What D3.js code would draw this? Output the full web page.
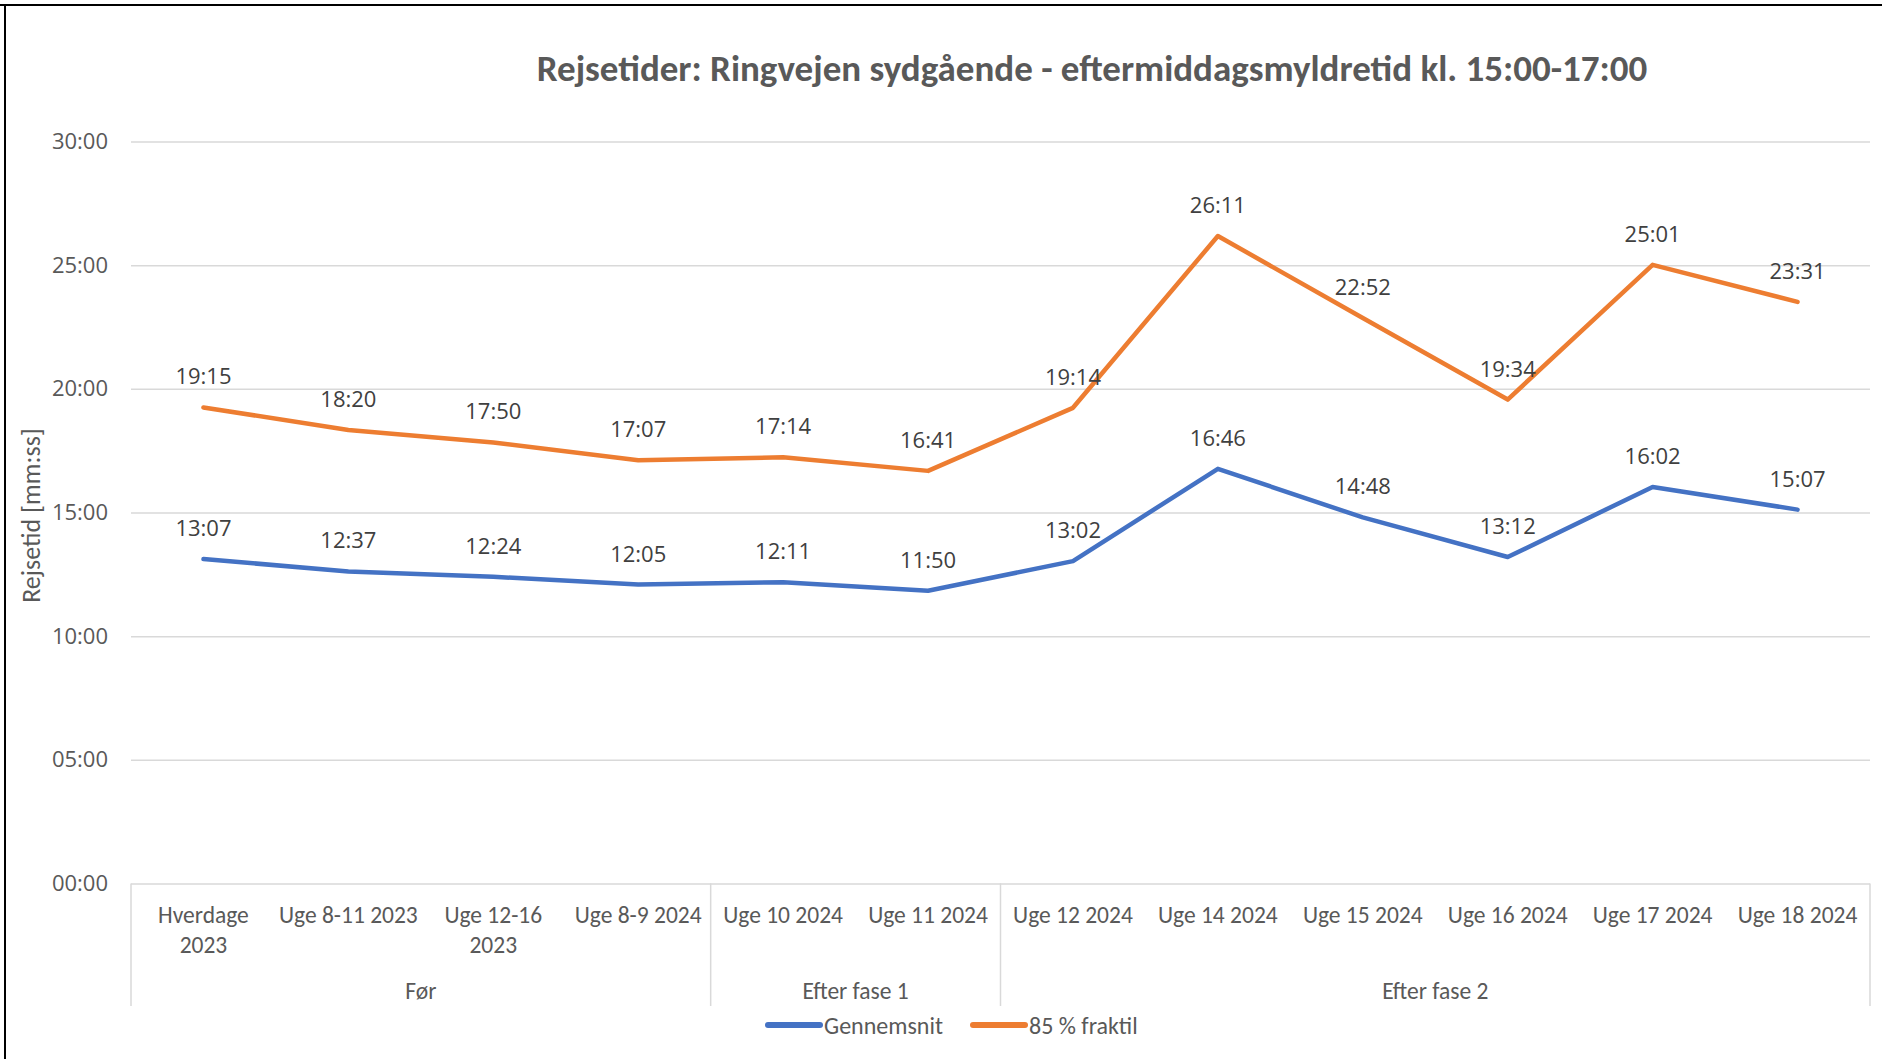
<!DOCTYPE html>
<html>
<head>
<meta charset="utf-8">
<script src="https://cdn.jsdelivr.net/npm/d3@7"></script>
<style>
  body { margin: 0; background: #fff; }
  svg { display: block; }
</style>
</head>
<body>
<svg width="1882" height="1059"></svg>
<script>
const categories = ['Hverdage\n2023', 'Uge 8-11 2023', 'Uge 12-16\n2023', 'Uge 8-9 2024',
  'Uge 10 2024', 'Uge 11 2024', 'Uge 12 2024', 'Uge 14 2024', 'Uge 15 2024',
  'Uge 16 2024', 'Uge 17 2024', 'Uge 18 2024'];
const groups = ['Før', 'Efter fase 1', 'Efter fase 2'];
const groupSizes = [4, 2, 6];
const gennemsnit = ['13:07', '12:37', '12:24', '12:05', '12:11', '11:50', '13:02', '16:46', '14:48', '13:12', '16:02', '15:07'];
const fraktil85 = ['19:15', '18:20', '17:50', '17:07', '17:14', '16:41', '19:14', '26:11', '22:52', '19:34', '25:01', '23:31'];
const yTicks = [0, 300, 600, 900, 1200, 1500, 1800];
const seriesNames = ['Gennemsnit', '85 % fraktil'];
const colors = ['#4472C4', '#ED7D31'];

const toSec = s => { const [m, ss] = s.split(':'); return +m * 60 + +ss; };
const fmt = v => d3.format('02')(Math.floor(v / 60)) + ':' + d3.format('02')(v % 60);

const svg = d3.select('svg');
const calibri = "Carlito, Calibri, 'Liberation Sans Narrow', Lato, sans-serif";
const segoe = "'Open Sans', 'Noto Sans', sans-serif";

// frame
svg.append('line').attr('x1', 0).attr('x2', 1882).attr('y1', 5).attr('y2', 5)
  .attr('stroke', '#000').attr('stroke-width', 2);
svg.append('line').attr('x1', 5).attr('x2', 5).attr('y1', 5).attr('y2', 1059)
  .attr('stroke', '#000').attr('stroke-width', 2);

const x0 = 131, x1 = 1870;
const x = d3.scaleBand().domain(d3.range(categories.length)).range([x0, x1]);
const y = d3.scaleLinear().domain([0, 1800]).range([883.4, 141.6]);
const edge = i => i < categories.length ? x(i) : x1;

// title
svg.append('text')
  .attr('x', 1092).attr('y', 68)
  .attr('text-anchor', 'middle').attr('dominant-baseline', 'central')
  .attr('font-family', calibri).attr('font-weight', 'bold').attr('font-size', 37)
  .attr('fill', '#595959')
  .text('Rejsetider: Ringvejen sydgående - eftermiddagsmyldretid kl. 15:00-17:00');

// grid + y axis
const yAxis = svg.append('g')
  .attr('transform', `translate(${x0},0)`)
  .call(d3.axisLeft(y).tickValues(yTicks).tickFormat(fmt).tickSize(-(x1 - x0)).tickPadding(23));
yAxis.select('.domain').remove();
yAxis.selectAll('line').attr('stroke', '#d9d9d9').attr('stroke-width', 1.5);
yAxis.selectAll('text').attr('font-family', segoe).attr('font-size', 22).attr('fill', '#595959');

svg.append('text')
  .attr('transform', `translate(31,${y(900) + 3}) rotate(-90)`)
  .attr('text-anchor', 'middle').attr('dominant-baseline', 'central')
  .attr('font-family', calibri).attr('font-size', 26).attr('fill', '#595959')
  .text('Rejsetid [mm:ss]');

// category axis
const xg = svg.append('g');
xg.selectAll('text.cat').data(categories).join('text')
  .attr('class', 'cat')
  .attr('x', (d, i) => x(i) + x.bandwidth() / 2)
  .attr('y', 915)
  .attr('text-anchor', 'middle').attr('dominant-baseline', 'central')
  .attr('font-family', calibri).attr('font-size', 23.5).attr('fill', '#595959')
  .each(function (d) {
    d.split('\n').forEach((line, k) => {
      d3.select(this).append('tspan').attr('x', d3.select(this).attr('x'))
        .attr('dy', k === 0 ? 0 : 30).text(line);
    });
  });

const bounds = [0].concat(Array.from(d3.cumsum(groupSizes)));
xg.selectAll('line.sep').data(bounds).join('line')
  .attr('class', 'sep')
  .attr('x1', d => edge(d)).attr('x2', d => edge(d))
  .attr('y1', y(0)).attr('y2', 1006)
  .attr('stroke', '#d9d9d9').attr('stroke-width', 1.5);

xg.selectAll('text.grp').data(groups).join('text')
  .attr('class', 'grp')
  .attr('x', (d, i) => (edge(bounds[i]) + edge(bounds[i + 1])) / 2)
  .attr('y', 991)
  .attr('text-anchor', 'middle').attr('dominant-baseline', 'central')
  .attr('font-family', calibri).attr('font-size', 23.5).attr('fill', '#595959')
  .text(d => d);

// lines + labels
const series = [gennemsnit, fraktil85];
const line = d3.line().x((d, i) => x(i) + x.bandwidth() / 2).y(d => y(toSec(d)));

series.forEach((s, k) => {
  svg.append('path').datum(s)
    .attr('d', line)
    .attr('fill', 'none')
    .attr('stroke', colors[k]).attr('stroke-width', 4.5)
    .attr('stroke-linejoin', 'round').attr('stroke-linecap', 'round');
});

series.forEach((s, k) => {
  svg.append('g').selectAll('text').data(s).join('text')
    .attr('x', (d, i) => x(i) + x.bandwidth() / 2)
    .attr('y', d => y(toSec(d)) - 32)
    .attr('text-anchor', 'middle').attr('dominant-baseline', 'central')
    .attr('font-family', segoe).attr('font-size', 22).attr('fill', '#404040')
    .text(d => d);
});

// legend
const legendX = [768, 973];
const legend = svg.append('g');
seriesNames.forEach((name, k) => {
  legend.append('line')
    .attr('x1', legendX[k]).attr('x2', legendX[k] + 52)
    .attr('y1', 1025).attr('y2', 1025)
    .attr('stroke', colors[k]).attr('stroke-width', 6).attr('stroke-linecap', 'round');
  legend.append('text')
    .attr('x', legendX[k] + 56).attr('y', 1025)
    .attr('dominant-baseline', 'central')
    .attr('font-family', calibri).attr('font-size', 24).attr('fill', '#595959')
    .text(name);
});
</script>
</body>
</html>
